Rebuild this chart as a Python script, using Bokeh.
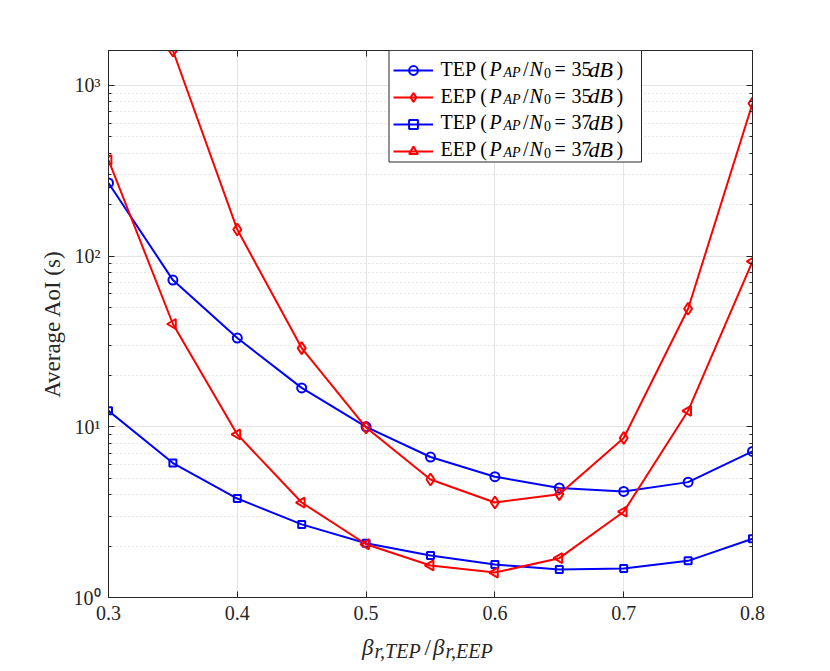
import numpy as np
from bokeh.plotting import figure
from bokeh.layouts import column
from bokeh.models import (Range1d, FixedTicker, LogAxis, LinearAxis, CustomJSTickFormatter,
                          Legend, LegendItem, Label, BoxAnnotation)
from bokeh.embed import file_html
from bokeh.resources import INLINE

# ---------------- data ----------------
beta_ratio = [0.3, 0.35, 0.4, 0.45, 0.5, 0.55, 0.6, 0.65, 0.7, 0.75, 0.8]
tep_35 = [268, 72.3, 33.1, 16.9, 10.0, 6.65, 5.10, 4.38, 4.18, 4.74, 7.17]
eep_35_x = [0.35, 0.4, 0.45, 0.5, 0.55, 0.6, 0.65, 0.7, 0.75, 0.8]
eep_35 = [1600, 143, 28.9, 9.9, 4.91, 3.60, 4.03, 8.59, 49.1, 783]
tep_37 = [12.4, 6.13, 3.80, 2.68, 2.08, 1.76, 1.56, 1.46, 1.48, 1.64, 2.21]
eep_37 = [365, 40.0, 9.02, 3.60, 2.05, 1.54, 1.40, 1.70, 3.18, 12.4, 93]

x_ticks = [0.3, 0.4, 0.5, 0.6, 0.7, 0.8]
y_major = [1, 10, 100, 1000]
y_minor = [m * d for d in (1, 10, 100) for m in range(2, 10)]

series_kind = ["TEP (", "EEP (", "TEP (", "EEP ("]
series_snr = ["35", "35", "37", "37"]

FONT = "Liberation Serif"
AX = "#262626"
BLUE = "#0000ff"
RED = "#ff0000"

X0, X1 = 0.3, 0.8
Y0, Y1 = 1, max(eep_35)

# frame geometry (page px)
FL, FR, FT, FB = 108, 752, 50, 597
W, H = 820, 630
H2 = 36

p = figure(width=W, height=H, x_range=Range1d(X0, X1), y_range=Range1d(Y0, Y1),
           y_axis_type="log", output_backend="svg", toolbar_location=None,
           min_border_left=FL, min_border_right=W - FR, min_border_top=FT, min_border_bottom=H - FB)
p.background_fill_color = "white"
p.border_fill_color = "white"
p.outline_line_color = AX
p.outline_line_width = 1

xt = FixedTicker(ticks=x_ticks)
yt = FixedTicker(ticks=y_major, minor_ticks=y_minor)
yfmt = CustomJSTickFormatter(code="""
const sup = {"0":"\u2070","1":"\u00b9","2":"\u00b2","3":"\u00b3"};
const e = Math.round(Math.log10(tick));
return "10" + sup[String(e)];
""")

def style_axis(ax):
    ax.axis_line_color = AX
    ax.major_tick_line_color = AX
    ax.minor_tick_line_color = AX
    ax.major_tick_in = 6
    ax.major_tick_out = 0
    ax.minor_tick_in = 3
    ax.minor_tick_out = 0
    ax.major_label_text_font = FONT
    ax.major_label_text_font_size = "20px"
    ax.major_label_text_color = AX

xa = p.xaxis[0]
xa.ticker = xt
style_axis(xa)
xa.major_label_standoff = 8

ya = p.yaxis[0]
ya.ticker = yt
ya.formatter = yfmt
style_axis(ya)
ya.major_label_standoff = 8
ya.axis_label = "Average AoI (s)"
ya.axis_label_text_font = FONT
ya.axis_label_text_font_size = "23px"
ya.axis_label_text_font_style = "normal"
ya.axis_label_text_color = AX
ya.axis_label_standoff = 6

empty = CustomJSTickFormatter(code="return '';")
ta = LinearAxis(ticker=xt, formatter=empty)
style_axis(ta)
p.add_layout(ta, "above")
ra = LogAxis(ticker=yt, formatter=empty)
style_axis(ra)
p.add_layout(ra, "right")

p.xgrid.ticker = xt
p.xgrid.grid_line_color = "#e3e3e3"
p.ygrid.grid_line_color = "#e3e3e3"
p.ygrid.minor_grid_line_color = "#cfcfcf"
p.ygrid.minor_grid_line_dash = "1 3"

# ---------------- series ----------------
lw = 2
r1l = p.line(beta_ratio, tep_35, line_color=BLUE, line_width=lw)
r1m = p.scatter(beta_ratio, tep_35, marker="circle", size=9, line_color=BLUE, line_width=2, fill_alpha=0)
r2l = p.line(eep_35_x, eep_35, line_color=RED, line_width=lw)
r2m = p.scatter(eep_35_x, eep_35, marker="diamond", size=12, line_color=RED, line_width=2, fill_alpha=0)
r3l = p.line(beta_ratio, tep_37, line_color=BLUE, line_width=lw)
r3m = p.scatter(beta_ratio, tep_37, marker="square", size=7, line_color=BLUE, line_width=2, fill_alpha=0)
r4l = p.line(beta_ratio, eep_37, line_color=RED, line_width=lw)
r4m = p.scatter(beta_ratio, eep_37, marker="triangle", angle=np.pi / 2, size=10, line_color=RED,
                line_width=2, fill_alpha=0)

# ---------------- helpers: page px -> data coords ----------------
LOG_SPAN = np.log10(Y1) - np.log10(Y0)

def to_data(px, py):
    xd = X0 + (px - FL) * (X1 - X0) / (FR - FL)
    yd = 10 ** (np.log10(Y0) + (FB - py) * LOG_SPAN / (FB - FT))
    return float(xd), float(yd)

# legend box first
bl, bb = to_data(388.5, 161.5)
br, bt = to_data(641, 50)
p.add_layout(BoxAnnotation(left=bl, right=br, bottom=bb, top=bt, fill_color="white", fill_alpha=1,
                           line_color=AX, line_width=1, line_alpha=1))

def txt(fig, xd, yd, s, size=20, italic=False, color="#000000"):
    fig.add_layout(Label(x=xd, y=yd, text=s,
                         text_font=FONT, text_font_size=f"{size}px",
                         text_font_style="italic" if italic else "normal",
                         text_color=color, text_baseline="alphabetic", text_align="left"))

def ltxt(px, py, s, **kw):
    xd, yd = to_data(px, py)
    txt(p, xd, yd, s, **kw)

row_base = [68.5, 95.2, 121.9, 148.6]
for kind, snr, yb in zip(series_kind, series_snr, row_base):
    ltxt(440, yb, kind)
    ltxt(489, yb, "P", italic=True)
    ltxt(503, yb + 3.5, "AP", size=14, italic=True)
    ltxt(522.5, yb, "/")
    ltxt(529, yb, "N", italic=True)
    ltxt(543.5, yb + 3.5, "0", size=14)
    ltxt(554, yb, "=")
    ltxt(571, yb, snr)
    ltxt(588, yb, "dB", size=22, italic=True)
    ltxt(616, yb, ")")

# legend glyph samples last (transparent legend)
items = [LegendItem(label=" ", renderers=[l, m]) for l, m in
         [(r1l, r1m), (r2l, r2m), (r3l, r3m), (r4l, r4m)]]
leg = Legend(items=items, location=(285, 433), padding=3, margin=0, spacing=1,
             glyph_width=40, glyph_height=22, label_height=26, label_width=196,
             label_standoff=3, border_line_color=None,
             background_fill_alpha=0,
             label_text_font=FONT, label_text_font_size="20px")
p.add_layout(leg, "center")

# ---------------- x-axis label strip (frame aligned with the main plot; data x = page px) ----------------
p2 = figure(width=W, height=H2, x_range=Range1d(FL, FR), y_range=Range1d(H + H2, H),
            output_backend="svg", toolbar_location=None,
            min_border_left=FL, min_border_right=W - FR, min_border_top=0, min_border_bottom=0,
            x_axis_location=None, y_axis_location=None)
p2.outline_line_color = None
p2.background_fill_color = "white"
p2.border_fill_color = "white"
p2.grid.visible = False

xb = 646.5
txt(p2, 361.5, xb, "\u03b2", size=23, italic=True, color=AX)
txt(p2, 374, xb + 3.5, "r,TEP", size=20, italic=True, color=AX)
txt(p2, 424, xb, "/", size=23, color=AX)
txt(p2, 432.5, xb, "\u03b2", size=23, italic=True, color=AX)
txt(p2, 445, xb + 3.5, "r,EEP", size=20, italic=True, color=AX)

layout = column(p, p2, spacing=0)
open("out.html", "w").write(file_html(layout, INLINE))
